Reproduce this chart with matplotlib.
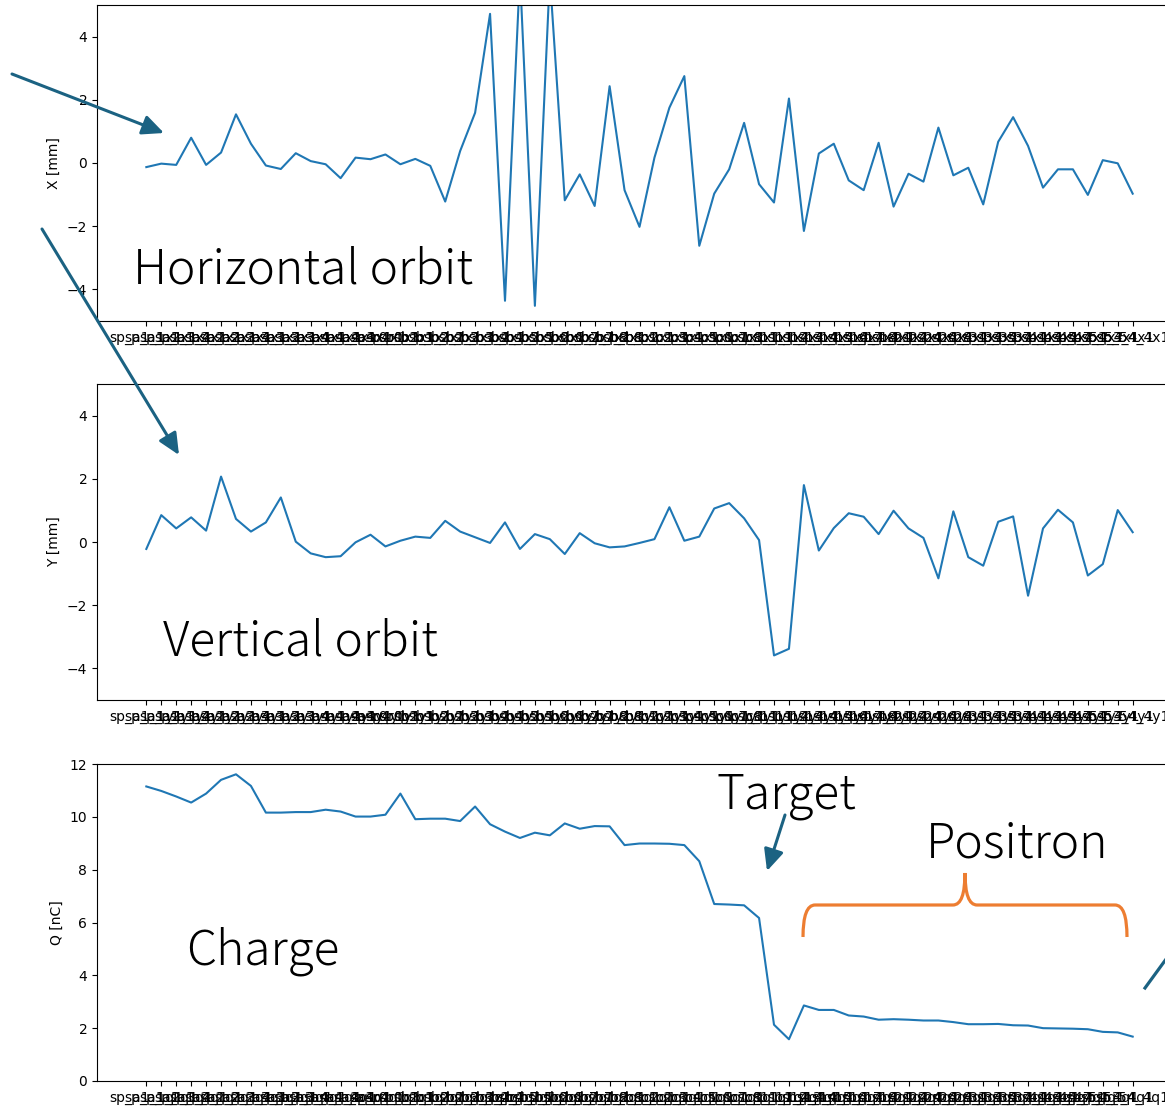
import matplotlib
matplotlib.use("Agg")
import matplotlib.pyplot as plt
from matplotlib.patches import FancyArrowPatch, PathPatch
from matplotlib.path import Path
from matplotlib.lines import Line2D
from matplotlib.transforms import Affine2D

# BPM names along the linac (tick labels get a per-panel suffix)
bpm_names = [
    "sp_a1_1", "sp_a1_2", "sp_a1_3", "sp_a1_4",
    "sp_a2_1", "sp_a2_2", "sp_a2_3", "sp_a2_4",
    "sp_a3_1", "sp_a3_2", "sp_a3_3", "sp_a3_4",
    "sp_a4_1", "sp_a4_2", "sp_a4_3", "sp_a4_4",
    "sp_r0_1", "sp_r0_2",
    "sp_b1_1", "sp_b1_2", "sp_b2_1", "sp_b2_2", "sp_b3_1", "sp_b3_2",
    "sp_b4_1", "sp_b4_2", "sp_b5_1", "sp_b5_2", "sp_b6_1", "sp_b6_2",
    "sp_b7_1", "sp_b7_2", "sp_b8_1", "sp_b8_2",
    "sp_c1_1", "sp_c2_1", "sp_c3_1", "sp_c4_1", "sp_c5_1", "sp_c6_1",
    "sp_c7_1", "sp_c8_1",
    "sp_11_1", "sp_11_4", "sp_12_4", "sp_13_4", "sp_14_4", "sp_15_4",
    "sp_16_4", "sp_17_4", "sp_18_4",
    "sp_21_4", "sp_22_4", "sp_24_4", "sp_26_4", "sp_28_4",
    "sp_31_4", "sp_33_4", "sp_35_4", "sp_37_4",
    "sp_41_4", "sp_43_4", "sp_45_4", "sp_47_4",
    "sp_51_4", "sp_53_4", "sp_54_4",
]

# horizontal orbit [mm]
x_orbit = [-0.13, -0.02, -0.06, 0.80, -0.06, 0.33, 1.54, 0.61, -0.08, -0.19,
           0.31, 0.06, -0.04, -0.48, 0.17, 0.12, 0.27, -0.04, 0.13, -0.09,
           -1.22, 0.38, 1.59, 4.72, -4.36, 6.0, -4.52, 5.9, -1.18, -0.36,
           -1.36, 2.43, -0.86, -2.02, 0.17, 1.75, 2.75, -2.62, -0.97, -0.20,
           1.27, -0.67, -1.25, 2.04, -2.15, 0.30, 0.61, -0.55, -0.86, 0.64,
           -1.38, -0.34, -0.59, 1.12, -0.39, -0.15, -1.31, 0.67, 1.45, 0.54,
           -0.78, -0.20, -0.20, -1.01, 0.09, -0.01, -0.97]

# vertical orbit [mm]
y_orbit = [-0.22, 0.85, 0.43, 0.78, 0.36, 2.07, 0.73, 0.33, 0.62, 1.41,
           0.01, -0.36, -0.48, -0.45, -0.01, 0.23, -0.14, 0.04, 0.17, 0.13,
           0.67, 0.33, 0.15, -0.03, 0.62, -0.22, 0.25, 0.09, -0.38, 0.28,
           -0.04, -0.17, -0.14, -0.03, 0.09, 1.10, 0.04, 0.17, 1.06, 1.23,
           0.75, 0.06, -3.59, -3.38, 1.80, -0.27, 0.44, 0.91, 0.80, 0.25,
           0.99, 0.43, 0.13, -1.15, 0.97, -0.48, -0.75, 0.64, 0.81, -1.70,
           0.43, 1.02, 0.62, -1.06, -0.70, 1.01, 0.31]

# bunch charge [nC]
charge = [11.15, 10.98, 10.77, 10.54, 10.88, 11.40, 11.61, 11.17, 10.16, 10.16,
          10.18, 10.18, 10.27, 10.20, 10.01, 10.01, 10.08, 10.88, 9.91, 9.93,
          9.93, 9.84, 10.39, 9.72, 9.44, 9.20, 9.40, 9.30, 9.75, 9.55,
          9.65, 9.64, 8.93, 8.99, 8.99, 8.98, 8.93, 8.32, 6.70, 6.68,
          6.65, 6.17, 2.13, 1.58, 2.86, 2.69, 2.69, 2.48, 2.44, 2.32,
          2.34, 2.32, 2.29, 2.29, 2.23, 2.15, 2.15, 2.16, 2.11, 2.10,
          2.00, 1.99, 1.98, 1.96, 1.86, 1.84, 1.68]

W, H = 1165, 1108
fig = plt.figure(figsize=(W / 100, H / 100), dpi=100)

# axes run past the right edge of the picture, as in the cropped original
left, width = 97 / W, 1085 / W
panels = [
    (x_orbit, "X [mm]", "x1", (H - 321) / H, 316 / H, (-5, 5), [-4, -2, 0, 2, 4]),
    (y_orbit, "Y [mm]", "y1", (H - 700) / H, 316 / H, (-5, 5), [-4, -2, 0, 2, 4]),
    (charge, "Q [nC]", "q1", (H - 1081) / H, 317 / H, (0, 12), [0, 2, 4, 6, 8, 10, 12]),
]
for vals, ylab, suf, bot, hgt, ylim, yticks in panels:
    ax = fig.add_axes([left, bot, width, hgt])
    labels = [n + suf for n in bpm_names]
    ax.plot(labels, vals, color="#1f77b4", lw=1.5)
    ax.set_ylim(*ylim)
    ax.set_yticks(yticks)
    ax.set_ylabel(ylab)

# annotation layer in picture pixels (y measured from the top)
px = Affine2D().scale(1, -1).translate(0, H)
teal = "#1b6282"
orange = "#ed7d31"
tfont = dict(family=["Noto Sans CJK JP", "DejaVu Sans"], fontsize=34.5,
             fontweight="light", color="black")

arrows = [((12, 74), (164, 133)), ((42, 229), (179, 455)), ((785, 815), (767, 871))]
for a, b in arrows:
    fig.add_artist(FancyArrowPatch(a, b, transform=px, color=teal, lw=2.2,
                                   arrowstyle="-|>,head_length=0.65,head_width=0.3",
                                   mutation_scale=20, shrinkA=0, shrinkB=0))
fig.add_artist(Line2D([1145, 1180], [988, 940], transform=px, color=teal, lw=2.3))

# curly brace over the positron section
verts = [(803, 937), (803, 905), (815, 905), (953, 905), (965, 905), (965, 873),
         (965, 905), (977, 905), (1115, 905), (1127, 905), (1127, 937)]
codes = [Path.MOVETO, Path.CURVE3, Path.CURVE3, Path.LINETO, Path.CURVE3, Path.CURVE3,
         Path.CURVE3, Path.CURVE3, Path.LINETO, Path.CURVE3, Path.CURVE3]
fig.add_artist(PathPatch(Path(verts, codes), transform=px, fill=False,
                         edgecolor=orange, lw=2.3))

texts = [("Horizontal orbit", 133, 283), ("Vertical orbit", 163, 655),
         ("Charge", 186, 965), ("Target", 716, 808), ("Positron", 926, 858)]
for s, x, y in texts:
    fig.text(x, y, s, transform=px, ha="left", va="baseline", **tfont)

plt.savefig("out.png", dpi=100)
